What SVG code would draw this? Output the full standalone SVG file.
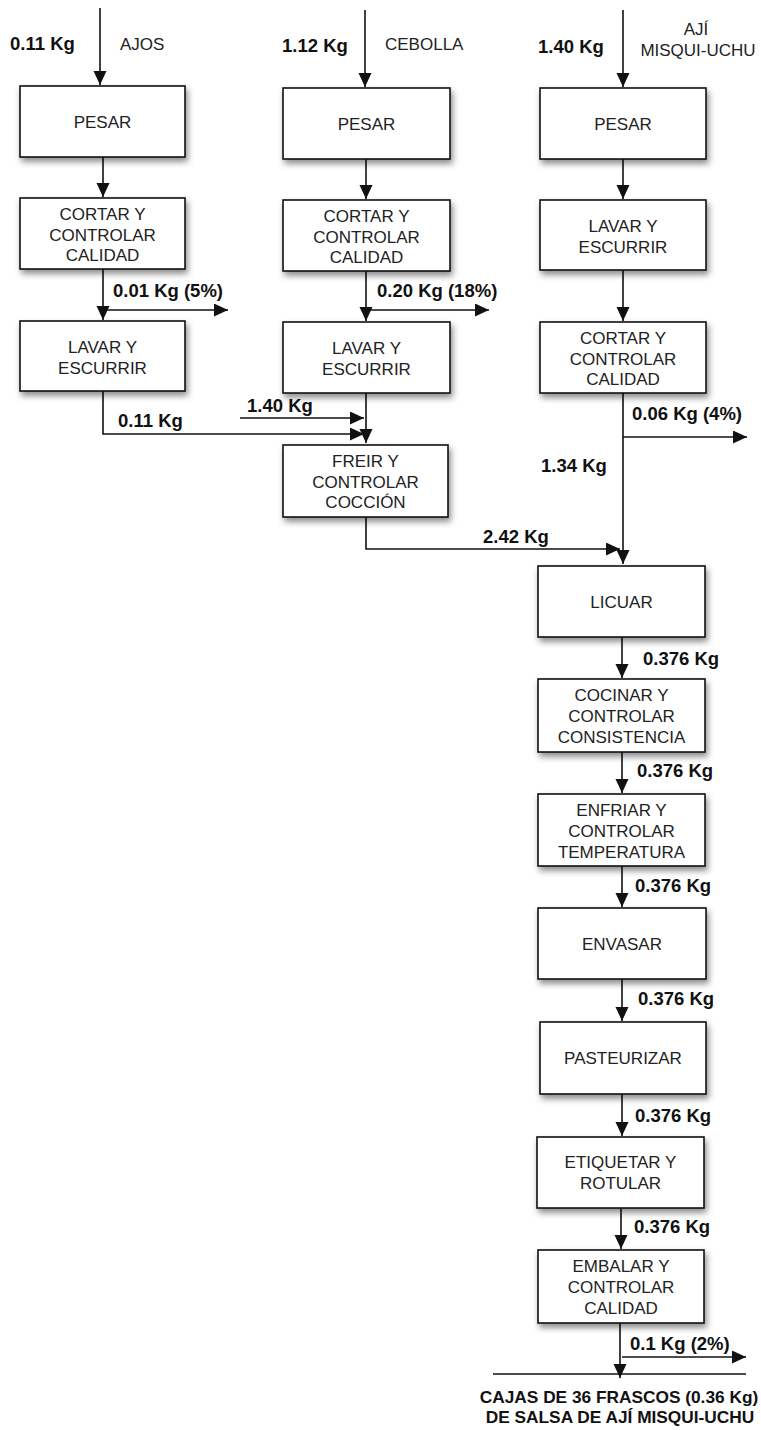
<svg xmlns="http://www.w3.org/2000/svg" width="761" height="1430" viewBox="0 0 761 1430">
<style>
.box{fill:#fff;stroke:#111;stroke-width:1.6;filter:url(#sh)}
.nt{font-family:"Liberation Sans",Arial,sans-serif;font-size:17px;fill:#222;text-anchor:middle}
.lb{font-family:"Liberation Sans",Arial,sans-serif;font-size:18.5px;font-weight:bold;fill:#111}
.rl{font-family:"Liberation Sans",Arial,sans-serif;font-size:17px;fill:#222}
.fin{font-family:"Liberation Sans",Arial,sans-serif;font-size:17.3px;font-weight:bold;fill:#111;text-anchor:middle}
.c{fill:none;stroke:#111;stroke-width:1.6}
.a{marker-end:url(#ah)}
</style>
<defs>
<filter id="sh" x="-20%" y="-20%" width="140%" height="160%">
<feDropShadow dx="2" dy="4" stdDeviation="3" flood-color="#000" flood-opacity="0.45"/>
</filter>
<marker id="ah" markerUnits="userSpaceOnUse" markerWidth="15" markerHeight="14" refX="14" refY="6.5" orient="auto">
<path d="M0,0 L14,6.5 L0,13 z" fill="#111"/>
</marker>
</defs>
<rect width="761" height="1430" fill="#fff"/>

<g id="connectors">
<path class="c a" d="M100,8 V85"/>
<path class="c a" d="M103,157 V197"/>
<path class="c a" d="M103,269 V320"/>
<path class="c a" d="M103,310 H228"/>
<path class="c a" d="M103,391 V434 H364"/>
<path class="c a" d="M240,418 H364"/>
<path class="c a" d="M365,10 V87"/>
<path class="c a" d="M366,159 V199"/>
<path class="c a" d="M366,271 V321"/>
<path class="c a" d="M367,310 H489"/>
<path class="c a" d="M366,393 V443"/>
<path class="c a" d="M366,517 V549 H620"/>
<path class="c a" d="M623,10 V87"/>
<path class="c a" d="M623,159 V199"/>
<path class="c a" d="M623,270 V321"/>
<path class="c a" d="M623,393 V564"/>
<path class="c a" d="M623,437 H747"/>
<path class="c a" d="M622,637 V678"/>
<path class="c a" d="M622,752 V793"/>
<path class="c a" d="M622,866 V907"/>
<path class="c a" d="M622,979 V1021"/>
<path class="c a" d="M622,1094 V1136"/>
<path class="c a" d="M621,1208 V1249"/>
<path class="c a" d="M620,1323 V1378"/>
<path class="c a" d="M622,1357 H746"/>
<path class="c" d="M493,1374 H746"/>
</g>

<g id="labels">
<text class="lb" x="10" y="50">0.11 Kg</text>
<text class="rl" x="120" y="50">AJOS</text>
<text class="lb" x="282" y="52">1.12 Kg</text>
<text class="rl" x="385" y="50">CEBOLLA</text>
<text class="lb" x="538" y="53">1.40 Kg</text>
<text class="rl" x="696" y="35" text-anchor="middle">AJÍ</text>
<text class="rl" x="698" y="56" text-anchor="middle">MISQUI-UCHU</text>
<text class="lb" x="113" y="297">0.01 Kg (5%)</text>
<text class="lb" x="377" y="297">0.20 Kg (18%)</text>
<text class="lb" x="247" y="412">1.40 Kg</text>
<text class="lb" x="118" y="427">0.11 Kg</text>
<text class="lb" x="632" y="420">0.06 Kg (4%)</text>
<text class="lb" x="541" y="472">1.34 Kg</text>
<text class="lb" x="483" y="543">2.42 Kg</text>
<text class="lb" x="643" y="665">0.376 Kg</text>
<text class="lb" x="637" y="777">0.376 Kg</text>
<text class="lb" x="635" y="892">0.376 Kg</text>
<text class="lb" x="638" y="1005">0.376 Kg</text>
<text class="lb" x="635" y="1122">0.376 Kg</text>
<text class="lb" x="634" y="1233">0.376 Kg</text>
<text class="lb" x="630" y="1350">0.1 Kg (2%)</text>
<text class="fin" x="619" y="1403">CAJAS DE 36 FRASCOS (0.36 Kg)</text>
<text class="fin" x="620" y="1423">DE SALSA DE AJÍ MISQUI-UCHU</text>
</g>

<g id="n_aj_pesar"><rect class="box" x="20" y="86" width="165" height="71"/><text class="nt" x="102.5" y="128">PESAR</text></g>
<g id="n_aj_cortar"><rect class="box" x="20" y="198" width="165" height="71"/><text class="nt" x="102.5" y="220">CORTAR Y</text><text class="nt" x="102.5" y="240.5">CONTROLAR</text><text class="nt" x="102.5" y="261">CALIDAD</text></g>
<g id="n_aj_lavar"><rect class="box" x="20" y="321" width="165" height="70"/><text class="nt" x="102.5" y="353">LAVAR Y</text><text class="nt" x="102.5" y="374">ESCURRIR</text></g>

<g id="n_ce_pesar"><rect class="box" x="283" y="88" width="167" height="71"/><text class="nt" x="366.5" y="130">PESAR</text></g>
<g id="n_ce_cortar"><rect class="box" x="283" y="200" width="167" height="71"/><text class="nt" x="366.5" y="222">CORTAR Y</text><text class="nt" x="366.5" y="242.5">CONTROLAR</text><text class="nt" x="366.5" y="263">CALIDAD</text></g>
<g id="n_ce_lavar"><rect class="box" x="283" y="322" width="167" height="71"/><text class="nt" x="366.5" y="354">LAVAR Y</text><text class="nt" x="366.5" y="375">ESCURRIR</text></g>
<g id="n_freir"><rect class="box" x="283" y="445" width="165" height="72"/><text class="nt" x="365.5" y="467">FREIR Y</text><text class="nt" x="365.5" y="487.5">CONTROLAR</text><text class="nt" x="365.5" y="508">COCCIÓN</text></g>

<g id="n_mi_pesar"><rect class="box" x="540" y="88" width="166" height="71"/><text class="nt" x="623" y="130">PESAR</text></g>
<g id="n_mi_lavar"><rect class="box" x="540" y="200" width="166" height="70"/><text class="nt" x="623" y="232">LAVAR Y</text><text class="nt" x="623" y="253">ESCURRIR</text></g>
<g id="n_mi_cortar"><rect class="box" x="540" y="322" width="166" height="71"/><text class="nt" x="623" y="344">CORTAR Y</text><text class="nt" x="623" y="364.5">CONTROLAR</text><text class="nt" x="623" y="385">CALIDAD</text></g>
<g id="n_licuar"><rect class="box" x="538" y="566" width="167" height="71"/><text class="nt" x="621.5" y="608">LICUAR</text></g>
<g id="n_cocinar"><rect class="box" x="538" y="679" width="167" height="73"/><text class="nt" x="621.5" y="701">COCINAR Y</text><text class="nt" x="621.5" y="722">CONTROLAR</text><text class="nt" x="621.5" y="743">CONSISTENCIA</text></g>
<g id="n_enfriar"><rect class="box" x="538" y="794" width="167" height="72"/><text class="nt" x="621.5" y="816">ENFRIAR Y</text><text class="nt" x="621.5" y="837">CONTROLAR</text><text class="nt" x="621.5" y="858">TEMPERATURA</text></g>
<g id="n_envasar"><rect class="box" x="538" y="908" width="168" height="71"/><text class="nt" x="622" y="950">ENVASAR</text></g>
<g id="n_pasteurizar"><rect class="box" x="540" y="1022" width="166" height="72"/><text class="nt" x="623" y="1064">PASTEURIZAR</text></g>
<g id="n_etiquetar"><rect class="box" x="537" y="1137" width="167" height="71"/><text class="nt" x="620.5" y="1168">ETIQUETAR Y</text><text class="nt" x="620.5" y="1189">ROTULAR</text></g>
<g id="n_embalar"><rect class="box" x="538" y="1250" width="166" height="73"/><text class="nt" x="621" y="1272">EMBALAR Y</text><text class="nt" x="621" y="1293">CONTROLAR</text><text class="nt" x="621" y="1314">CALIDAD</text></g>
</svg>
